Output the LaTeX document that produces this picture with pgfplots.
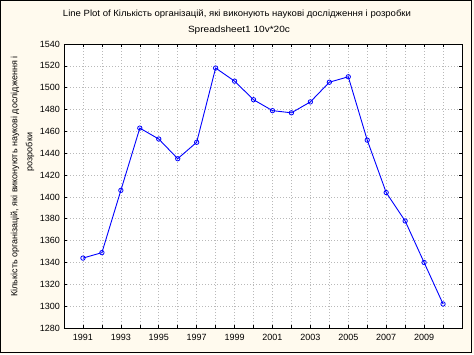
\documentclass[border=0pt]{standalone}
\usepackage{fontspec}
\setmainfont{Liberation Sans}
\usepackage{pgfplots}
\pgfplotsset{compat=1.18}
\definecolor{bgcream}{RGB}{255,250,238}
\definecolor{gridgray}{RGB}{185,185,185}
\begin{document}
\fontsize{9}{10.8}\selectfont
\begin{tikzpicture}
\fill[bgcream] (0pt,0pt) rectangle (474pt,354pt);
\draw[black,line width=0.9pt] (0.5pt,2pt) rectangle (471pt,353.5pt);
\begin{axis}[
  at={(64pt,26pt)}, anchor=south west,
  width=398pt, height=284pt, scale only axis,
  xmin=1990, xmax=2011, ymin=1280, ymax=1540,
  axis background/.style={fill=white},
  axis line style={black,line width=0.9pt},
  xtick={1991,...,2010},
  xticklabels={1991,,1993,,1995,,1997,,1999,,2001,,2003,,2005,,2007,,2009,},
  ytick={1280,1300,...,1540},
  tick align=inside, major tick length=3pt,
  tick style={black,line width=0.6pt},
  grid=major,
  major grid style={gridgray,line width=0.6pt,dash pattern=on 1pt off 2pt},
  /pgf/number format/1000 sep={},
  /pgf/number format/assume math mode=true,
  tick label style={font=\fontsize{9}{10.8}\selectfont},
  xticklabel style={yshift=-3pt},
  yticklabel style={xshift=-1pt},
]
\addplot[color={rgb,255:red,0;green,0;blue,255}, line width=0.9pt,
  mark=o, mark size=2.2pt, mark options={fill=white,line width=0.8pt}]
  coordinates {
  (1991,1344) (1992,1349) (1993,1406) (1994,1463) (1995,1453)
  (1996,1435) (1997,1450) (1998,1518) (1999,1506) (2000,1489)
  (2001,1479) (2002,1477) (2003,1487) (2004,1505) (2005,1510)
  (2006,1452) (2007,1404) (2008,1378) (2009,1340) (2010,1302)
  };
\end{axis}
\node[anchor=center,xscale=1.06] at (237pt,339.5pt) {Line Plot of Кількість організацій, які виконують наукові дослідження і розробки};
\node[anchor=center,xscale=1.12] at (239pt,323.5pt) {Spreadsheet1 10v*20c};
\node[anchor=center,rotate=90] at (15pt,177.5pt) {Кількість організацій, які виконують наукові дослідження і};
\node[anchor=center,rotate=90] at (30pt,202pt) {розробки};
\end{tikzpicture}
\end{document}
